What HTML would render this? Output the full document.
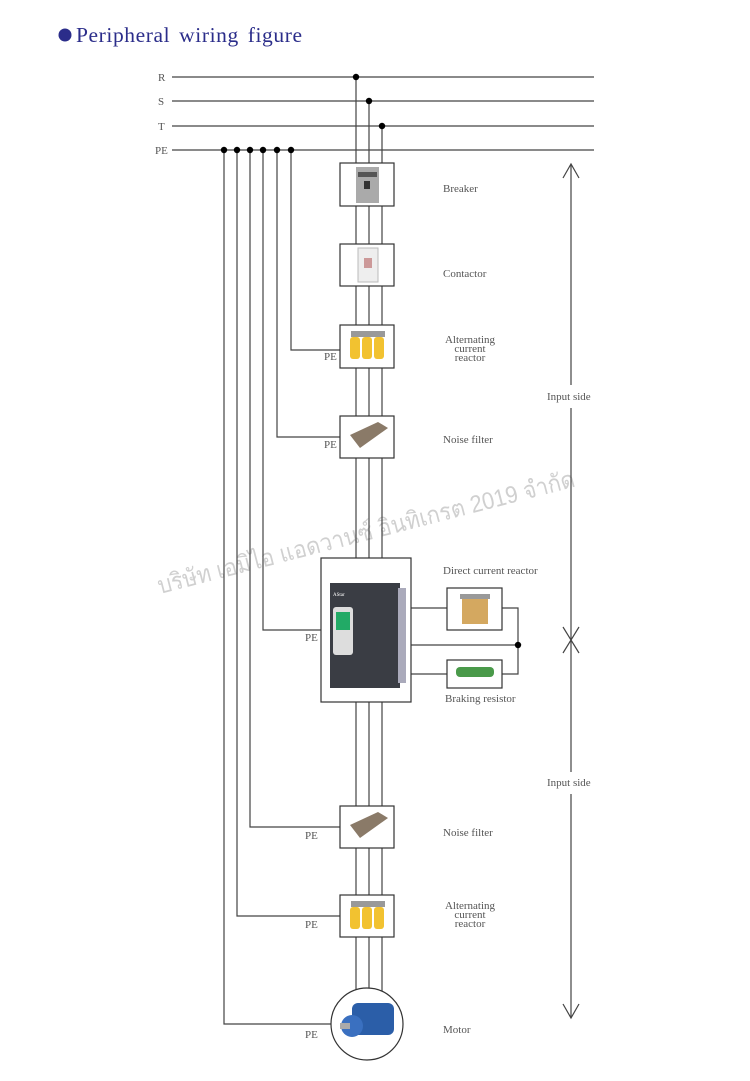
<!DOCTYPE html>
<html><head><meta charset="utf-8"><style>
html,body{margin:0;padding:0;background:#fff;width:750px;height:1081px;overflow:hidden}
svg{display:block}
text{font-family:"Liberation Serif",serif;fill:#555}
</style></head><body>
<svg width="750" height="1081" viewBox="0 0 750 1081" xmlns="http://www.w3.org/2000/svg">
<circle cx="65" cy="35" r="6.5" fill="#2b2d8a"/>
<text x="76" y="42" font-size="21.5" textLength="226" lengthAdjust="spacing" style="fill:#2b2d8a;word-spacing:3px">Peripheral wiring figure</text>

<!-- watermark -->
<text x="0" y="0" font-size="24" textLength="430" lengthAdjust="spacingAndGlyphs" transform="translate(160,594) rotate(-14.5)" style="fill:#d0d0d0;font-family:'Liberation Sans','Noto Sans CJK SC','DejaVu Sans',sans-serif">บริษัท เอมิไอ แอดวานซ์ อินทิเกรต 2019 จำกัด</text>

<g stroke="#444" stroke-width="1.2" fill="none">
<line x1="172" y1="77" x2="594" y2="77"/>
<line x1="172" y1="101" x2="594" y2="101"/>
<line x1="172" y1="126" x2="594" y2="126"/>
<line x1="172" y1="150" x2="594" y2="150"/>
<line x1="356" y1="77" x2="356" y2="1000"/>
<line x1="369" y1="101" x2="369" y2="990"/>
<line x1="382" y1="126" x2="382" y2="998"/>
<polyline points="291,150 291,350 340,350"/>
<polyline points="277,150 277,437 340,437"/>
<polyline points="263,150 263,630 321,630"/>
<polyline points="250,150 250,827 340,827"/>
<polyline points="237,150 237,916 340,916"/>
<polyline points="224,150 224,1024 331,1024"/>
<line x1="411" y1="608" x2="447" y2="608"/>
<line x1="411" y1="645" x2="518" y2="645"/>
<line x1="411" y1="674" x2="447" y2="674"/>
<polyline points="502,608 518,608 518,674 502,674"/>
<line x1="571" y1="165" x2="571" y2="385"/>
<line x1="571" y1="408" x2="571" y2="772"/>
<line x1="571" y1="794" x2="571" y2="1018"/>
<polyline points="563,178 571,164 579,178"/>
<polyline points="563,1004 571,1018 579,1004"/>
<polyline points="563,627 579,653"/><polyline points="579,627 563,653"/>
</g>
<g fill="#000">
<circle cx="356" cy="77" r="3.2"/><circle cx="369" cy="101" r="3.2"/><circle cx="382" cy="126" r="3.2"/>
<circle cx="224" cy="150" r="3.2"/><circle cx="237" cy="150" r="3.2"/><circle cx="250" cy="150" r="3.2"/>
<circle cx="263" cy="150" r="3.2"/><circle cx="277" cy="150" r="3.2"/><circle cx="291" cy="150" r="3.2"/>
<circle cx="518" cy="645" r="3.2"/>
</g>

<g stroke="#333" stroke-width="1.2" fill="#fff">
<rect x="340" y="163" width="54" height="43"/>
<rect x="340" y="244" width="54" height="42"/>
<rect x="340" y="325" width="54" height="43"/>
<rect x="340" y="416" width="54" height="42"/>
<rect x="321" y="558" width="90" height="144"/>
<rect x="447" y="588" width="55" height="42"/>
<rect x="447" y="660" width="55" height="28"/>
<rect x="340" y="806" width="54" height="42"/>
<rect x="340" y="895" width="54" height="42"/>
<circle cx="367" cy="1024" r="36"/>
</g>

<rect x="356" y="167" width="23" height="36" fill="#aaa"/><rect x="358" y="172" width="19" height="5" fill="#555"/><rect x="364" y="181" width="6" height="8" fill="#333"/>
<rect x="358" y="248" width="20" height="34" fill="#eee" stroke="#bbb"/><rect x="364" y="258" width="8" height="10" fill="#c99"/>
<g><rect x="351" y="331" width="34" height="6" fill="#999"/>
<rect x="350" y="337" width="10" height="22" rx="3" fill="#f2c230"/><rect x="362" y="337" width="10" height="22" rx="3" fill="#f2c230"/><rect x="374" y="337" width="10" height="22" rx="3" fill="#f2c230"/></g>
<g><rect x="351" y="901" width="34" height="6" fill="#999"/>
<rect x="350" y="907" width="10" height="22" rx="3" fill="#f2c230"/><rect x="362" y="907" width="10" height="22" rx="3" fill="#f2c230"/><rect x="374" y="907" width="10" height="22" rx="3" fill="#f2c230"/></g>
<polygon points="350,435 378,422 388,428 360,448" fill="#8a7a68"/>
<polygon points="350,825 378,812 388,818 360,838" fill="#8a7a68"/>
<rect x="330" y="583" width="70" height="105" fill="#3a3d44"/>
<rect x="398" y="588" width="8" height="95" fill="#aab"/>
<rect x="333" y="607" width="20" height="48" rx="3" fill="#ddd"/><rect x="336" y="612" width="14" height="18" fill="#2a6"/>
<text x="333" y="596" font-size="5" style="fill:#fff">AStar</text>
<rect x="462" y="594" width="26" height="30" fill="#d4a860"/><rect x="460" y="594" width="30" height="5" fill="#999"/>
<rect x="456" y="667" width="38" height="10" rx="4" fill="#4a9a4a"/>
<rect x="352" y="1003" width="42" height="32" rx="6" fill="#2b5ea8"/>
<circle cx="352" cy="1026" r="11" fill="#3a70c0"/><rect x="340" y="1023" width="10" height="6" fill="#aaa"/>

<g font-size="11">
<text x="158" y="81">R</text><text x="158" y="105">S</text><text x="158" y="130">T</text><text x="155" y="154">PE</text>
<text x="443" y="192">Breaker</text>
<text x="443" y="277">Contactor</text>
<text x="470" y="343" text-anchor="middle">Alternating</text>
<text x="470" y="352" text-anchor="middle">current</text>
<text x="470" y="361" text-anchor="middle">reactor</text>
<text x="443" y="443">Noise filter</text>
<text x="443" y="574">Direct current reactor</text>
<text x="445" y="702">Braking resistor</text>
<text x="547" y="400">Input side</text>
<text x="547" y="786">Input side</text>
<text x="443" y="836">Noise filter</text>
<text x="470" y="909" text-anchor="middle">Alternating</text>
<text x="470" y="918" text-anchor="middle">current</text>
<text x="470" y="927" text-anchor="middle">reactor</text>
<text x="443" y="1033">Motor</text>
<text x="324" y="360">PE</text>
<text x="324" y="448">PE</text>
<text x="305" y="641">PE</text>
<text x="305" y="839">PE</text>
<text x="305" y="928">PE</text>
<text x="305" y="1038">PE</text>
</g>
</svg>
</body></html>
